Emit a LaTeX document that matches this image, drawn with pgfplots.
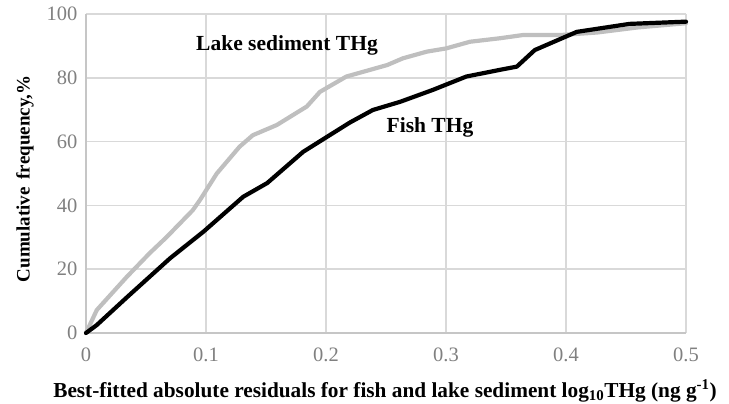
\documentclass[border=0pt]{standalone}
\usepackage{fontspec}
\setmainfont{Liberation Serif}
\usepackage{pgfplots}
\pgfplotsset{compat=1.18}
\definecolor{gridc}{HTML}{D9D9D9}
\definecolor{axc}{HTML}{C6C6C6}
\definecolor{tickc}{HTML}{808080}
\definecolor{lakec}{HTML}{BFBFBF}
\begin{document}
\begin{tikzpicture}[x=1pt,y=1pt]
\useasboundingbox (-86,-71) rectangle (643,333);
\begin{axis}[
  at={(0,0)}, anchor=south west,
  scale only axis, width=600pt, height=319pt,
  xmin=0, xmax=0.5, ymin=0, ymax=100,
  xtick={0,0.1,0.2,0.3,0.4,0.5},
  xticklabels={0,0.1,0.2,0.3,0.4,0.5},
  ytick={0,20,40,60,80,100},
  yticklabels={0,20,40,60,80,100},
  axis lines*=left,
  axis line style={axc, line width=2pt},
  grid=major,
  major grid style={gridc, line width=1.6pt},
  major tick length=0pt,
  ticklabel style={font=\fontsize{20.5}{24}\selectfont, text=tickc},
  xticklabel style={yshift=-11pt},
  yticklabel style={xshift=-5pt},
  /pgf/number format/assume math mode=true,
  clip=false,
]
\addplot[lakec, line width=4.2pt, line join=round, line cap=round] coordinates {
(0,0) (0.009,7.2) (0.034,17.6) (0.053,25) (0.067,30) (0.089,38.5) (0.095,41.7)
(0.109,50) (0.128,58.4) (0.139,62) (0.159,65.2) (0.184,71) (0.195,75.6)
(0.217,80.4) (0.251,84) (0.264,86.1) (0.284,88.2) (0.30,89.2) (0.32,91.3)
(0.345,92.4) (0.364,93.4) (0.395,93.4) (0.426,94.2) (0.46,95.8) (0.5,97.1)
};
\addplot[black, line width=4.2pt, line join=round, line cap=round] coordinates {
(0,0) (0.009,2.5) (0.035,11.5) (0.07,23.4) (0.098,31.8) (0.131,42.7) (0.151,47)
(0.181,56.8) (0.203,62) (0.22,66) (0.239,69.9) (0.262,72.5) (0.289,76.2)
(0.317,80.4) (0.345,82.5) (0.359,83.5) (0.374,88.7) (0.409,94.4) (0.453,96.9) (0.5,97.6)
};
\end{axis}
\node[font=\fontsize{21.5}{25}\selectfont\bfseries] at (201,288) {Lake sediment THg};
\node[font=\fontsize{21.5}{25}\selectfont\bfseries] at (344,206) {Fish THg};
\node[font=\fontsize{21.3}{25}\selectfont\bfseries] at (299,-58) {Best-fitted absolute residuals for fish and lake sediment log\textsubscript{10}THg (ng g\textsuperscript{-1})};
\node[font=\fontsize{19}{22}\selectfont\bfseries, rotate=90] at (-61,154) {Cumulative\, frequency,\%};
\end{tikzpicture}
\end{document}
